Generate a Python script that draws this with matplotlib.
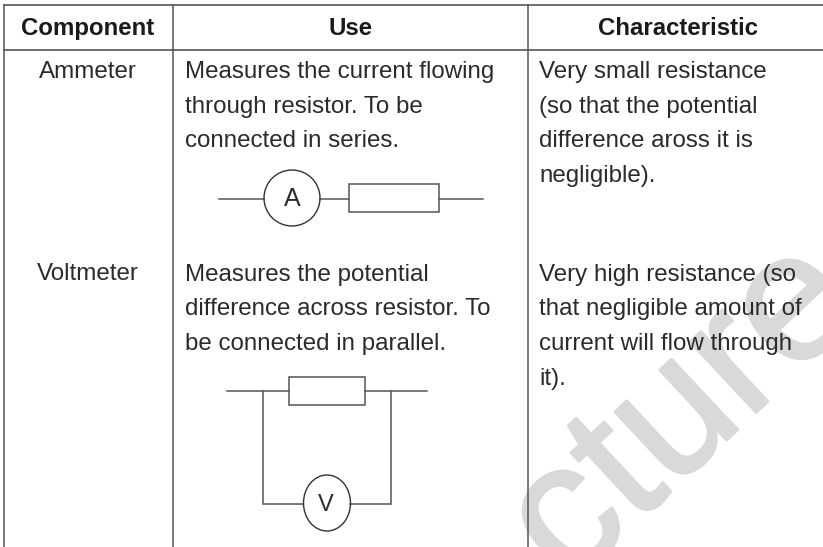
#!/usr/bin/env python3
"""Component table (ammeter / voltmeter) with the two little circuit sketches."""
import matplotlib
matplotlib.use('Agg')
import matplotlib.pyplot as plt
import matplotlib.patheffects as pe
from matplotlib.patches import Circle, Ellipse, Rectangle

plt.rcParams['font.family'] = ['Liberation Sans', 'DejaVu Sans']

W, H = 823, 547
INK = '#2b2b2b'
RULE = '#555555'
WATER = '#d9d9d9'

headers = ['Component', 'Use', 'Characteristic']
header_x = [88, 351, 678]
components = ['Ammeter', 'Voltmeter']
uses = [
    ['Measures the current flowing', 'through resistor. To be', 'connected in series.'],
    ['Measures the potential', 'difference across resistor. To', 'be connected in parallel.'],
]
chars = [
    ['Very small resistance', '(so that the potential', 'difference aross it is', 'negligible).'],
    ['Very high resistance (so', 'that negligible amount of', 'current will flow through', 'it).'],
]
row_base = [78, 280.5]
LINE = 34.7
BODY = 17.4

fig = plt.figure(figsize=(W / 100, H / 100), dpi=100)
ax = fig.add_axes([0, 0, 1, 1])
ax.set_xlim(0, W)
ax.set_ylim(H, 0)
ax.axis('off')

# watermark sits under everything
ax.text(568, 588, 'cture', fontsize=132, color=WATER, rotation=43,
        rotation_mode='anchor', ha='left', va='baseline', zorder=1,
        path_effects=[pe.withStroke(linewidth=2, foreground=WATER)])

# table rules
for y in (4.5, 50):
    ax.plot([4, W], [y, y], color=RULE, lw=1.2, zorder=3)
for x in (4, 173.5, 528):
    ax.plot([x, x], [4.5, H], color=RULE, lw=1.1, zorder=3)

for x, h in zip(header_x, headers):
    ax.text(x, 35, h, fontsize=17.3, fontweight='bold', color='#1a1a1a',
            ha='center', va='baseline', zorder=4)

for comp, use, ch, base in zip(components, uses, chars, row_base):
    ax.text(88, base, comp, fontsize=BODY, color=INK, ha='center', va='baseline', zorder=4)
    for i, s in enumerate(use):
        ax.text(185, base + i * LINE, s, fontsize=BODY, color=INK, va='baseline', zorder=4)
    for i, s in enumerate(ch):
        ax.text(539.5, base + i * LINE, s, fontsize=BODY, color=INK, va='baseline', zorder=4)


def wire(xs, ys):
    ax.plot(xs, ys, color=RULE, lw=1.1, zorder=4, solid_joinstyle='miter')


# ammeter sketch
wire([219, 264], [199, 199])
wire([320, 349], [199, 199])
wire([439, 483], [199, 199])
ax.add_patch(Circle((292, 198), 28, fill=False, ec='#333333', lw=1.0, zorder=4))
ax.add_patch(Rectangle((349, 184), 90, 28, fill=False, ec=RULE, lw=1.1, zorder=4))
ax.text(292, 205.5, 'A', fontsize=18, color=INK, ha='center', va='baseline', zorder=4)

# voltmeter sketch
wire([227, 289], [391, 391])
wire([365, 427], [391, 391])
ax.add_patch(Rectangle((289, 377), 76, 28, fill=False, ec=RULE, lw=1.1, zorder=4))
wire([303, 263, 263], [504, 504, 391])
wire([350, 391, 391], [504, 504, 391])
ax.add_patch(Ellipse((327, 503), 47, 56, fill=False, ec='#333333', lw=1.0, zorder=4))
ax.text(326, 511, 'V', fontsize=17, color=INK, ha='center', va='baseline', zorder=4)

fig.savefig('out.png', dpi=100, facecolor='white')
